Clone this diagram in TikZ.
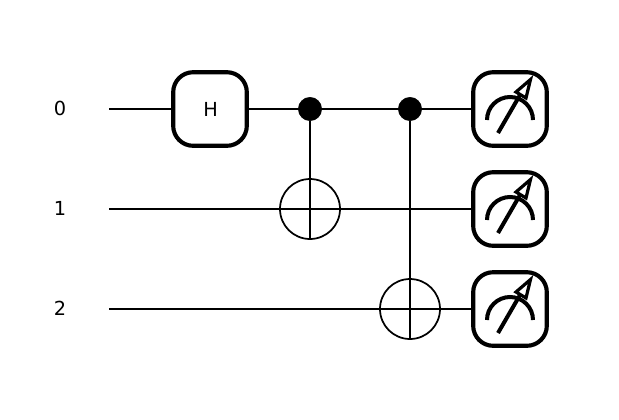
\documentclass[tikz,border=0pt]{standalone}
\usepackage{fontspec}
\setmainfont{DejaVu Sans}
\usetikzlibrary{positioning}
\tikzset{
  wire/.style={line width=1.6pt},
  gatebox/.style={draw,fill=white,line width=3.1pt,rounded corners=15pt,minimum size=55.2pt,inner sep=0pt},
  ctrl/.style={circle,fill=black,draw=black,minimum size=17.5pt,inner sep=0pt},
  target/.style={circle,draw,line width=1.3pt,minimum size=45pt,inner sep=0pt},
  wirelabel/.style={font=\fontsize{14.5}{14.5}\selectfont},
  meter/.pic={
    \draw[line width=3pt] (-23,11) arc[start angle=180,end angle=360,radius=23];
    \draw[line width=3pt] (-12,24) -- (10,-14);
    \draw[line width=2.4pt,fill=white,miter limit=10] (20.5,-29.5) -- (6,-17) -- (16,-11) -- cycle;
  }
}
\begin{document}
\begin{tikzpicture}[x=0.75pt,y=-0.75pt,node distance=75pt,on grid]
\useasboundingbox (0,0) rectangle (619,419);
\node[wirelabel] (q0) at (60,108.5) {0};
\node[wirelabel,below=of q0] (q1) {1};
\node[wirelabel,below=of q1] (q2) {2};
\coordinate (s0) at (109,109);
\coordinate (s1) at (109,209);
\coordinate (s2) at (109,309);
\node[gatebox,font=\fontsize{14.5}{14.5}\selectfont,text depth=0pt] (H) at (210,109) {\hspace{1pt}H};
\node[ctrl,right=of H] (c0) {};
\node[ctrl,right=of c0] (d0) {};
\node[gatebox,right=of d0] (M0) {};
\node[target,below=of c0] (t0) {};
\node[gatebox,below=of M0] (M1) {};
\node[gatebox,below=of M1] (M2) {};
\node[target,left=150pt of M2,xshift=75pt] (t1) {};
\begin{scope}[wire]
\draw (s0) -- (H);
\draw (H) -- (M0);
\draw (s1) -- (M1);
\draw (s2) -- (M2);
\draw (c0) -- (t0.south);
\draw (d0) -- (t1.south);
\end{scope}
\pic at (M0) {meter};
\pic at (M1) {meter};
\pic at (M2) {meter};
\end{tikzpicture}
\end{document}
